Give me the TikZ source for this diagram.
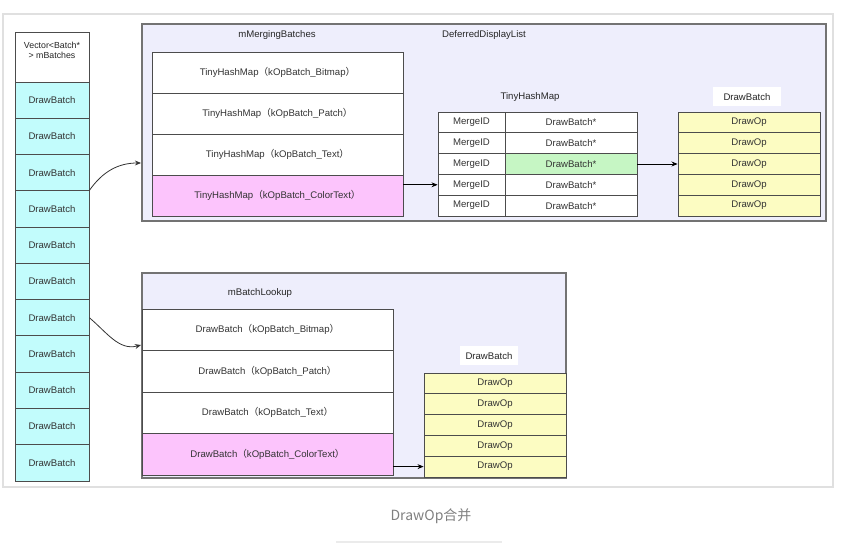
\documentclass[tikz,border=0pt]{standalone}
\usepackage{fontspec}
\setmainfont{Liberation Sans}
\newfontfamily\cjk{Noto Sans CJK SC}
\usetikzlibrary{arrows.meta}

\definecolor{lavanda}{HTML}{EEEEFC}
\definecolor{cian}{HTML}{C2FCFC}
\definecolor{rosa}{HTML}{FCC4FC}
\definecolor{amarillo}{HTML}{FCFCC2}
\definecolor{verde}{HTML}{C6F6C4}
\definecolor{texto}{HTML}{333333}
\newcommand\clave[1]{{\cjk （}#1{\cjk ）}}

\begin{document}
\begin{tikzpicture}[x=0.75pt, y=-0.75pt, >={Stealth[length=1.6mm, width=1.3mm]}, line width=0.6pt,
  celda/.style={draw=black!70, inner sep=0pt, text=texto, font=\fontsize{7.2}{8.5}\selectfont},
  vcelda/.style={celda, fill=cian, minimum width=55.5pt, minimum height=27.2pt},
  mapa/.style={celda, minimum width=188.25pt, minimum height=30.75pt},
  hclave/.style={celda, fill=white, minimum width=50.25pt, minimum height=15.6pt},
  hvalor/.style={celda, minimum width=99pt, minimum height=15.6pt},
  op/.style={celda, fill=amarillo, minimum width=106.5pt, minimum height=15.6pt},
  panel/.style={draw=black!55, line width=0.9pt, fill=lavanda, inner sep=0pt},
  titulo/.style={text=black!85, font=\fontsize{7.2}{8.5}\selectfont},
  etiqueta/.style={titulo, fill=white, inner sep=0pt, minimum width=51pt, minimum height=14.25pt}]
  \useasboundingbox (0,0) rectangle (854,559);
  % marco exterior
  \draw[black!12, line width=0.8pt] (3,14) rectangle (833,487);
  % vector de lotes
  \node[celda, fill=white, minimum width=55.5pt, minimum height=37.5pt] (vcab) at (52,57) {};
  \node[titulo, align=center, anchor=north, font=\fontsize{6.6}{8}\selectfont] (vtxt) at ([yshift=-4pt]vcab.north) {Vector<Batch*\\> mBatches};
  \foreach \i in {1,...,11}
    \node[vcelda] (vb\i) at (52, {82+36.27*(\i-0.5)}) {DrawBatch};
  % lista diferida
  \node[panel, minimum width=513pt, minimum height=147.75pt] (ddl) at (484,122.5) {};
  \node[titulo] (tmb) at (277,35) {mMergingBatches};
  \node[titulo] (tddl) at (484,35) {DeferredDisplayList};
  \foreach \t/\c [count=\i] in {Bitmap/white, Patch/white, Text/white, ColorText/rosa}
    \node[mapa, fill=\c] (mb\i) at (277.5, {52+41*(\i-0.5)}) {TinyHashMap\clave{kOpBatch\_\t}};
  \node[titulo] (thm) at (530,97) {TinyHashMap};
  \foreach \c [count=\i] in {white, white, verde, white, white}{
    \node[hclave] (hk\i) at (471.5, {112+20.8*(\i-0.5)}) {MergeID};
    \node[hvalor, fill=\c] (hv\i) at (571, {112+20.8*(\i-0.5)}) {DrawBatch*};
    \node[op] (op\i) at (749, {112+20.8*(\i-0.5)}) {DrawOp};
  }
  \node[etiqueta] (db1) at (747,97) {DrawBatch};
  \draw[->] (hk4.west -| mb4.east) -- (hk4.west);
  \draw[->] (hv3.east) -- (op3.west);
  % busqueda de lotes
  \node[panel, minimum width=318pt, minimum height=153.75pt] (blk) at (354,375.5) {};
  \node[titulo] (tbl) at (260,293) {mBatchLookup};
  \foreach \t/\c [count=\i] in {Bitmap/white, Patch/white, Text/white, ColorText/rosa}
    \node[mapa, fill=\c, minimum height=31.1pt] (bk\i) at (267.5, {309+41.5*(\i-0.5)}) {DrawBatch\clave{kOpBatch\_\t}};
  \foreach \i in {1,...,5}
    \node[op] (bo\i) at (495, {373+20.8*(\i-0.5)}) {DrawOp};
  \node[etiqueta, minimum width=43.5pt] (db2) at (489,356) {DrawBatch};
  \draw[->] (bo5.west -| bk4.east) -- (bo5.west);
  % flechas curvas desde el vector
  \coordinate (e1) at (141,163);
  \coordinate (e2) at (141,345);
  \draw[->, black!80] (vb4.north east) to[out=55, in=180] (e1);
  \draw[->, black!80] (vb7.east) to[out=-40, in=195] (e2);
  % pie
  \node[font=\cjk\fontsize{10.5}{12}\selectfont, text=black!50] (pie) at (431,516) {DrawOp合并};
  \draw[black!8, line width=0.8pt] (336,542) -- (502,542);
\end{tikzpicture}
\end{document}
